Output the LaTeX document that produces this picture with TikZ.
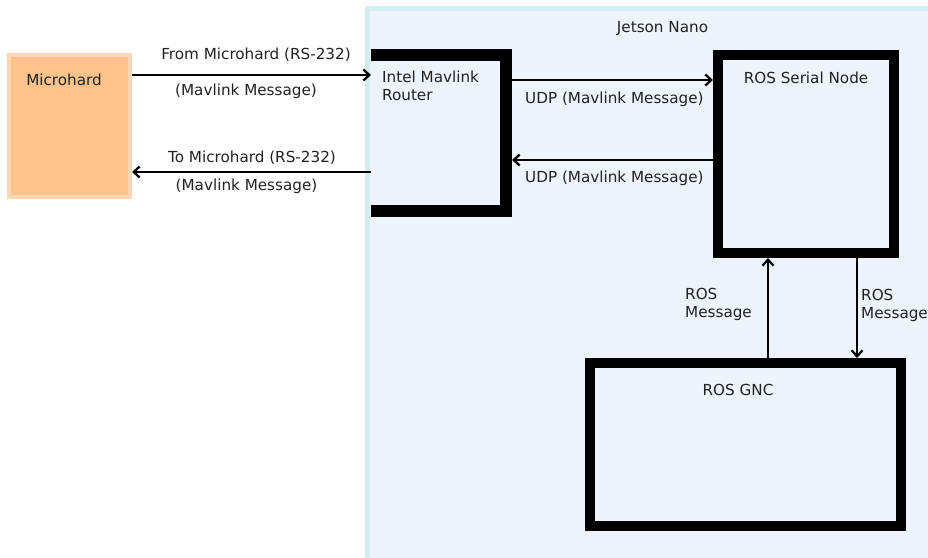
\documentclass[tikz,border=0pt]{standalone}
\usepackage{fontspec}
\setmainfont{DejaVu Sans}
\usetikzlibrary{arrows.meta}
\definecolor{txt}{HTML}{222222}
\definecolor{orfill}{HTML}{FAC38C}
\definecolor{orline}{HTML}{FDD7B3}
\definecolor{jfill}{HTML}{EDF4FB}
\definecolor{jline}{HTML}{D3EEF3}
\tikzset{
  lbl/.style={font=\fontsize{15.2}{18}\selectfont, text=txt, inner sep=0pt},
  blk/.style={draw=black, line width=10pt, fill=none, inner sep=0pt},
  arr/.style={line width=2.3pt, -{Straight Barb[length=6pt,width=11pt]}},
}
\begin{document}
\begin{tikzpicture}[x=1pt,y=-1pt]
\useasboundingbox (0,0) rectangle (928,557);
\clip (0,0) rectangle (928,557);
\fill[white] (0,0) rectangle (928,557);

% Jetson Nano frame
\node[draw=jline, fill=jfill, line width=5pt, minimum width=567.5pt, minimum height=551.5pt, inner sep=0pt] (jetson) at (651.25,284.25) {};
\node[lbl, anchor=base] (jetsonlbl) at (662.5,32) {Jetson Nano};

% Microhard
\node[draw=orline, fill=orfill, line width=4pt, minimum width=121pt, minimum height=142pt, inner sep=0pt] (micro) at (69.5,126) {};
\node[lbl, anchor=base] (microlbl) at (64,85) {Microhard};

% Intel Mavlink Router (open on the left)
\node[minimum width=141pt, minimum height=168pt, inner sep=0pt, outer sep=0pt] (router) at (441.5,133) {};
\draw[line width=12pt] ([yshift=-6pt]router.north west) -- ([xshift=-6pt,yshift=-6pt]router.north east)
  -- ([xshift=-6pt,yshift=6pt]router.south east) -- ([yshift=6pt]router.south west);
\node[lbl, anchor=north west, align=left] (routerlbl) at (382,71) {Intel Mavlink\\Router};

% ROS Serial Node
\node[blk, minimum width=176pt, minimum height=198pt] (serial) at (806,154) {};
\node[lbl, anchor=base] (seriallbl) at (806,83) {ROS Serial Node};

% ROS GNC
\node[blk, minimum width=311pt, minimum height=163pt] (gnc) at (745.5,444.5) {};
\node[lbl, anchor=base] (gnclbl) at (738,395) {ROS GNC};

% Microhard <-> Router
\draw[arr] (micro.east |- 0,75) -- (router.west |- 0,75);
\node[lbl, anchor=base] at (256,59) {From Microhard (RS-232)};
\node[lbl, anchor=base] at (246,95) {(Mavlink Message)};
\draw[arr] (router.west |- 0,172) -- (micro.east |- 0,172);
\node[lbl, anchor=base] at (252,162) {To Microhard (RS-232)};
\node[lbl, anchor=base] at (246.5,190) {(Mavlink Message)};

% Router <-> Serial
\draw[arr] (router.east |- 0,80) -- (serial.west |- 0,80);
\node[lbl, anchor=base west] at (525,103) {UDP (Mavlink Message)};
\draw[arr] (serial.west |- 0,160) -- (router.east |- 0,160);
\node[lbl, anchor=base west] at (525,182) {UDP (Mavlink Message)};

% Serial <-> GNC
\draw[arr] (gnc.north -| 768,0) -- (serial.south -| 768,0);
\node[lbl, anchor=north west, align=left] at (685,288) {ROS\\Message};
\draw[arr] (serial.south -| 857,0) -- (gnc.north -| 857,0);
\node[lbl, anchor=north west, align=left] at (861,289) {ROS\\Message};
\end{tikzpicture}
\end{document}
